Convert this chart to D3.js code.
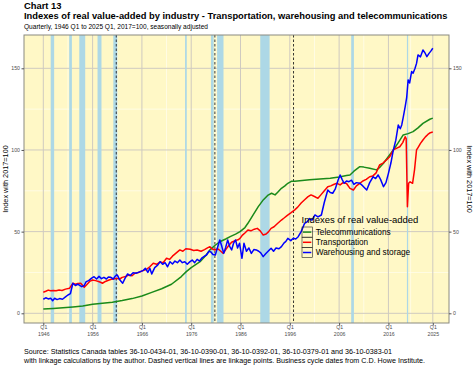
<!DOCTYPE html>
<html>
<head>
<meta charset="utf-8">
<script src="https://cdn.jsdelivr.net/npm/d3@7"></script>
<style>
  html, body { margin: 0; padding: 0; background: #ffffff; }
  svg { display: block; }
  text { font-family: "Liberation Sans", Arial, Helvetica, sans-serif; }
</style>
</head>
<body>
<svg id="chart" width="474" height="366"></svg>
<script>
// ---------------- DATA ----------------
const seriesNames = ["Telecommunications", "Transportation", "Warehousing and storage"];
const seriesColors = ["#1a8a1a", "#ff0000", "#0000ff"];

const telecom = [
  [1946,2.6],[1948,3.0],[1950,3.4],[1952,3.9],[1954,4.5],[1956,5.5],[1958,6.2],[1960,6.8],
  [1962,7.8],[1964,9.0],[1966,10.6],[1968,12.8],[1970,15.0],[1972,17.8],[1974,22.5],[1975,25.5],
  [1976,28.0],[1977.8,31.6],[1979,35.5],[1979.8,38.8],[1980.8,41.5],[1981.8,43.8],[1983,45.5],
  [1983.9,46.9],[1985,48.5],[1985.9,50.0],[1986.9,52.5],[1987.5,55.1],[1988.5,60.0],[1989.6,65.3],
  [1990.5,69.0],[1991.6,72.4],[1992.3,73.5],[1993,72.5],[1993.5,74.0],[1994.3,76.5],[1995,78.0],
  [1995.6,79.6],[1996.3,80.8],[1997,80.8],[2000,81.8],[2004.2,82.7],[2006,83.5],[2007.5,84.3],
  [2008.2,84.7],[2009,87.0],[2010.2,89.8],[2011,89.5],[2012.2,88.8],[2013.6,87.8],[2014.3,89.5],
  [2015,91.9],[2016,96.0],[2017,100.0],[2018,104.5],[2019,109.2],[2020,110.0],[2021,111.2],
  [2022,113.5],[2023,116.3],[2024.4,118.8],[2025,119.5]
];

const transportation = [
  [1946.0,12.9],[1946.5,13.5],[1947.0,14.2],[1947.5,13.8],[1948.0,14.0],[1948.6,13.8],[1949.2,14.2],
  [1949.8,14.0],[1950.5,14.8],[1951.3,15.3],[1952.0,18.4],[1952.5,17.8],[1953.0,18.2],[1953.6,18.4],
  [1954.3,15.9],[1954.8,17.5],[1955.4,19.5],[1956.0,20.4],[1956.6,20.0],[1957.2,19.5],[1957.6,19.0],
  [1958.0,18.4],[1958.6,19.5],[1959.2,20.2],[1959.8,20.8],[1960.3,21.0],[1960.75,21.4],[1961.5,21.0],
  [1962.0,22.0],[1962.7,22.5],[1963.4,23.5],[1964.0,23.0],[1964.6,24.5],[1965.3,25.0],[1966.2,26.1],
  [1967.0,27.0],[1967.6,28.5],[1968.3,30.6],[1969.0,30.0],[1969.7,31.5],[1970.3,31.0],[1971.0,33.7],
  [1971.6,33.0],[1972.2,35.0],[1972.8,36.5],[1973.7,38.8],[1974.3,38.0],[1974.9,39.5],[1975.8,39.2],
  [1976.5,38.5],[1977.2,38.8],[1978.0,38.0],[1978.7,39.0],[1979.3,40.0],[1979.8,40.8],[1980.2,39.5],
  [1980.8,38.8],[1981.4,39.5],[1982.0,38.0],[1982.5,36.7],[1983.0,39.0],[1983.6,41.5],[1984.2,43.5],
  [1984.9,44.5],[1985.5,45.0],[1985.9,45.9],[1986.4,47.9],[1987.0,49.5],[1987.5,51.0],[1988.1,50.5],
  [1988.8,51.5],[1989.4,52.0],[1990.0,50.5],[1990.6,47.9],[1991.2,48.5],[1991.7,50.0],[1992.2,52.0],
  [1992.8,53.0],[1993.5,55.0],[1994.3,57.1],[1994.9,58.5],[1995.5,60.0],[1996.2,61.5],[1997.0,63.3],
  [1997.6,65.0],[1998.3,67.5],[1999.0,69.5],[1999.7,71.4],[2000.3,72.5],[2001.0,71.5],[2001.7,70.4],
  [2002.3,72.5],[2003.0,75.0],[2003.7,77.5],[2004.3,78.0],[2005.0,79.0],[2005.6,79.6],[2006.2,78.6],
  [2006.8,80.0],[2007.5,79.5],[2008.2,76.5],[2008.9,75.5],[2009.5,78.0],[2010.2,79.6],[2010.8,81.0],
  [2011.5,82.0],[2012.2,83.6],[2012.8,84.0],[2013.5,86.0],[2014.2,90.8],[2014.9,92.0],[2015.6,93.9],
  [2016.3,96.0],[2017.0,100.0],[2017.6,101.0],[2018.3,102.0],[2018.9,104.5],[2019.4,108.1],
  [2019.6,107.0],[2019.85,65.3],[2020.1,79.6],[2020.4,80.5],[2020.9,79.6],[2021.3,88.0],[2021.7,100.0],
  [2022.0,101.5],[2022.5,104.0],[2023.0,106.1],[2023.5,108.0],[2024.0,109.5],[2024.5,110.6],[2025.0,111.0]
];

const warehousing = [
  [1946.0,8.6],[1946.5,9.5],[1947.0,8.8],[1947.5,9.2],[1947.9,7.7],[1948.3,9.2],[1948.8,8.4],
  [1949.3,9.0],[1949.9,8.6],[1950.5,10.0],[1951.0,11.2],[1951.5,12.0],[1952.0,18.4],[1952.5,17.0],
  [1953.0,17.8],[1953.3,17.3],[1953.8,16.3],[1954.3,17.0],[1954.7,19.4],[1955.2,20.0],[1955.8,21.5],
  [1956.3,22.4],[1956.8,21.0],[1957.3,22.6],[1957.8,21.2],[1958.3,22.0],[1958.8,21.0],[1959.2,22.2],
  [1959.7,22.0],[1960.2,21.0],[1960.6,22.8],[1961.0,23.5],[1961.5,20.5],[1962.1,18.4],[1962.6,21.5],
  [1963.1,24.1],[1963.6,23.0],[1964.2,24.8],[1964.8,24.5],[1965.4,25.2],[1966.2,26.1],[1966.7,27.6],
  [1967.2,25.0],[1967.6,27.6],[1968.0,24.1],[1968.6,28.0],[1969.2,29.5],[1969.7,31.6],[1970.2,30.0],
  [1970.7,31.0],[1971.2,28.5],[1971.7,31.6],[1972.2,30.2],[1972.7,32.0],[1973.2,31.0],[1973.7,32.6],
  [1974.2,31.0],[1974.7,31.6],[1975.2,30.0],[1975.7,31.5],[1976.2,32.6],[1976.7,31.0],[1977.2,33.0],
  [1977.7,32.0],[1978.2,34.0],[1978.7,35.0],[1979.1,35.7],[1979.6,38.0],[1980.0,37.5],[1980.4,36.0],
  [1980.9,35.7],[1981.3,40.0],[1981.8,44.9],[1982.2,41.0],[1982.6,36.7],[1983.0,40.5],[1983.4,44.9],
  [1983.8,41.0],[1984.2,38.8],[1984.6,43.0],[1985.0,44.9],[1985.4,40.0],[1985.8,42.9],[1986.3,33.7],
  [1986.7,42.9],[1987.2,38.0],[1987.7,40.0],[1988.2,36.7],[1988.7,39.0],[1989.2,38.8],[1989.7,38.0],
  [1990.1,37.0],[1990.6,34.7],[1991.1,36.5],[1991.6,38.0],[1992.2,39.8],[1992.7,38.0],[1993.2,40.0],
  [1993.8,39.5],[1994.3,40.8],[1994.8,43.0],[1995.2,44.0],[1995.6,45.9],[1996.2,44.5],[1996.7,46.0],
  [1997.2,45.5],[1997.7,46.9],[1998.3,50.0],[1999.0,55.1],[1999.5,56.0],[2000.0,58.0],[2000.5,57.0],
  [2001.1,60.2],[2001.7,59.0],[2002.4,60.2],[2003.0,68.0],[2003.7,75.5],[2004.2,74.0],[2004.7,73.5],
  [2005.2,76.0],[2005.8,81.6],[2006.2,84.7],[2006.6,82.0],[2007.0,79.6],[2007.5,81.0],[2008.0,80.6],
  [2008.5,81.5],[2009.0,79.0],[2009.5,80.0],[2010.2,79.6],[2010.8,78.0],[2011.6,75.5],[2012.2,80.0],
  [2012.9,83.6],[2013.4,82.5],[2013.9,84.7],[2014.4,82.0],[2015.0,77.5],[2015.5,80.0],[2016.0,85.7],
  [2016.5,92.0],[2017.0,100.0],[2017.5,106.0],[2018.0,115.3],[2018.4,113.0],[2018.7,115.3],
  [2019.0,120.0],[2019.4,126.5],[2019.7,132.0],[2020.0,142.9],[2020.3,141.0],[2020.7,148.0],
  [2021.0,147.0],[2021.4,150.0],[2021.7,153.0],[2022.0,158.2],[2022.5,157.0],[2023.0,161.2],
  [2023.4,159.5],[2023.8,157.1],[2024.2,159.0],[2024.6,160.5],[2025.0,162.3]
];

// Business cycle (recession) periods [start, end]
const recessions = [
  [1947.5,1948.2],[1951.25,1951.8],[1953.3,1954.5],[1957.0,1957.8],[1960.2,1961.0],
  [1974.75,1975.1],[1980.0,1980.55],[1981.25,1982.55],[1990.0,1991.9],[2008.45,2009.0],[2019.75,2020.0]
];
// Linkage points (dashed lines)
const linkagePoints = [1960.8, 1980.8, 1996.75];

const xTickYears = [1946, 1956, 1966, 1976, 1986, 1996, 2006, 2016, 2025];
const xMinorYears = [1951, 1961, 1971, 1981, 1991, 2001, 2011, 2020.5];
const yTicks = [0, 50, 100, 150];
const yMinor = [25, 75, 125];

const titleText = "Chart 13";
const subtitleMain = "Indexes of real value-added by industry - Transportation, warehousing and telecommunications";
const subtitleText = "Quarterly, 1946 Q1 to 2025 Q1, 2017=100, seasonally adjusted";
const captionLines = [
  "Source: Statistics Canada tables 36-10-0434-01, 36-10-0390-01, 36-10-0392-01, 36-10-0379-01 and 36-10-0383-01",
  "with linkage calculations by the author. Dashed vertical lines are linkage points. Business cycle dates from C.D. Howe Institute."
];
const axisTitle = "Index with 2017=100";
const legendTitle = "Indexes of real value-added";

// ---------------- LAYOUT ----------------
const svg = d3.select("#chart");
const panel = { left: 24, right: 449, top: 35, bottom: 323 };

const x = d3.scaleLinear().domain([1946, 2025]).range([43.3, 432.8]);
const y = d3.scaleLinear().domain([0, 150]).range([313.3, 68.3]);

function fitText(sel, width) {
  const node = sel.node();
  const fs = parseFloat(sel.attr("font-size"));
  const w = node.getComputedTextLength();
  if (w > 0) sel.attr("font-size", (fs * width / w).toFixed(2));
  return sel;
}

// background
svg.append("rect").attr("x", 0).attr("y", 0).attr("width", 474).attr("height", 366).attr("fill", "#ffffff");
svg.append("rect")
  .attr("x", panel.left).attr("y", panel.top)
  .attr("width", panel.right - panel.left).attr("height", panel.bottom - panel.top)
  .attr("fill", "#fff8c6");

const clipId = "panelclip";
svg.append("clipPath").attr("id", clipId).append("rect")
  .attr("x", panel.left).attr("y", panel.top)
  .attr("width", panel.right - panel.left).attr("height", panel.bottom - panel.top);

const g = svg.append("g").attr("clip-path", `url(#${clipId})`);

// minor grid
g.selectAll(".ymin").data(yMinor).join("line")
  .attr("x1", panel.left).attr("x2", panel.right)
  .attr("y1", d => y(d)).attr("y2", d => y(d))
  .attr("stroke", "#fffdf0").attr("stroke-width", 0.7);
g.selectAll(".xmin").data(xMinorYears).join("line")
  .attr("y1", panel.top).attr("y2", panel.bottom)
  .attr("x1", d => x(d)).attr("x2", d => x(d))
  .attr("stroke", "#fffdf0").attr("stroke-width", 0.7);
// major grid
g.selectAll(".ymaj").data(yTicks).join("line")
  .attr("x1", panel.left).attr("x2", panel.right)
  .attr("y1", d => y(d)).attr("y2", d => y(d))
  .attr("stroke", "#cfcac0").attr("stroke-width", 1);
g.selectAll(".xmaj").data(xTickYears).join("line")
  .attr("y1", panel.top).attr("y2", panel.bottom)
  .attr("x1", d => x(d)).attr("x2", d => x(d))
  .attr("stroke", "#cfcac0").attr("stroke-width", 1);

// recession bands
g.selectAll(".band").data(recessions).join("rect")
  .attr("x", d => x(d[0])).attr("width", d => Math.max(1.2, x(d[1]) - x(d[0])))
  .attr("y", panel.top).attr("height", panel.bottom - panel.top)
  .attr("fill", "#add8e6");

// linkage dashed lines
g.selectAll(".link").data(linkagePoints).join("line")
  .attr("x1", d => x(d)).attr("x2", d => x(d))
  .attr("y1", panel.top).attr("y2", panel.bottom)
  .attr("stroke", "#222").attr("stroke-width", 0.9).attr("stroke-dasharray", "2.5,2");

// series lines
const line = d3.line().x(d => x(d[0])).y(d => y(d[1]));
const allSeries = [telecom, transportation, warehousing];
allSeries.forEach((s, i) => {
  g.append("path").datum(s)
    .attr("d", line).attr("fill", "none")
    .attr("stroke", seriesColors[i]).attr("stroke-width", 1.5)
    .attr("stroke-linejoin", "round");
});

// panel border / axis lines
svg.append("rect")
  .attr("x", panel.left).attr("y", panel.top)
  .attr("width", panel.right - panel.left).attr("height", panel.bottom - panel.top)
  .attr("fill", "none").attr("stroke", "#8a8a80").attr("stroke-width", 1);

// y axes
const axisColor = "#555";
const yLeft = d3.axisLeft(y).tickValues(yTicks).tickSize(2.5).tickPadding(1.5);
const yRight = d3.axisRight(y).tickValues(yTicks).tickSize(2.5).tickPadding(1.5);
const gl = svg.append("g").attr("transform", `translate(${panel.left},0)`).call(yLeft);
const gr = svg.append("g").attr("transform", `translate(${panel.right},0)`).call(yRight);
[gl, gr].forEach(ax => {
  ax.select(".domain").remove();
  ax.selectAll("line").attr("stroke", axisColor);
  ax.selectAll("text").attr("font-size", 5.2).attr("fill", "#4d4d4d")
    .style("font-family", '"Liberation Sans", Arial, sans-serif');
});

// x axis
const xAx = d3.axisBottom(x).tickValues(xTickYears).tickSize(2.5).tickFormat("");
const gx = svg.append("g").attr("transform", `translate(0,${panel.bottom})`).call(xAx);
gx.select(".domain").remove();
gx.selectAll("line").attr("stroke", axisColor);
gx.selectAll(".tick").each(function (d) {
  const t = d3.select(this);
  t.append("text").attr("y", 6.2).attr("fill", "#4d4d4d").attr("font-size", 5.2)
    .attr("text-anchor", "middle").text("Q1");
  t.append("text").attr("y", 13.3).attr("fill", "#4d4d4d").attr("font-size", 5.2)
    .attr("text-anchor", "middle").text(d);
});

// axis titles
svg.append("text").attr("transform", "translate(7.5,179) rotate(-90)")
  .attr("text-anchor", "middle").attr("font-size", 7.3).attr("fill", "#000").text(axisTitle);
svg.append("text").attr("transform", "translate(466.5,179) rotate(90)")
  .attr("text-anchor", "middle").attr("font-size", 7.3).attr("fill", "#000").text(axisTitle);

// titles
fitText(svg.append("text").attr("x", 24).attr("y", 9.3).attr("font-weight", "bold")
  .attr("font-size", 9.4).attr("fill", "#000").text(titleText), 37.5);
fitText(svg.append("text").attr("x", 24).attr("y", 19.2).attr("font-weight", "bold")
  .attr("font-size", 8.5).attr("fill", "#000").text(subtitleMain), 424);
fitText(svg.append("text").attr("x", 24).attr("y", 29.3)
  .attr("font-size", 6.3).attr("fill", "#000").text(subtitleText), 184);

// caption
fitText(svg.append("text").attr("x", 24).attr("y", 354)
  .attr("font-size", 6.5).attr("fill", "#000").text(captionLines[0]), 368.5);
fitText(svg.append("text").attr("x", 24).attr("y", 362.5)
  .attr("font-size", 6.5).attr("fill", "#000").text(captionLines[1]), 402);

// legend
const lg = svg.append("g");
fitText(lg.append("text").attr("x", 301.5).attr("y", 223).attr("font-size", 8.5)
  .attr("fill", "#000").text(legendTitle), 117);
const keyTop = 227, keyH = 10.2;
seriesNames.forEach((name, i) => {
  const ky = keyTop + i * keyH;
  lg.append("rect").attr("x", 302).attr("y", ky).attr("width", 10.3).attr("height", keyH)
    .attr("fill", "none").attr("stroke", "#222").attr("stroke-width", 0.6);
  lg.append("line").attr("x1", 303).attr("x2", 311.3).attr("y1", ky + keyH / 2).attr("y2", ky + keyH / 2)
    .attr("stroke", seriesColors[i]).attr("stroke-width", 1.5);
  const widths = [75, 52.5, 94.5];
  fitText(lg.append("text").attr("x", 315.7).attr("y", ky + keyH / 2 + 2.6).attr("font-size", 7.4)
    .attr("fill", "#000").text(name), widths[i]);
});
</script>
</body>
</html>
